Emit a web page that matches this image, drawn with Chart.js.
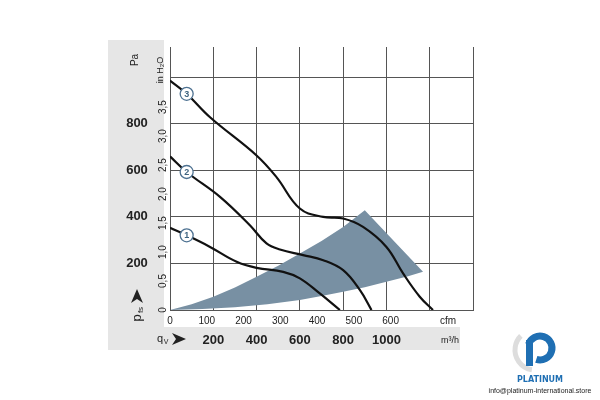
<!DOCTYPE html>
<html>
<head>
<meta charset="utf-8">
<script src="https://cdn.jsdelivr.net/npm/chart.js@4/dist/chart.umd.min.js"></script>
<style>
  body { margin: 0; background: #fff; }
</style>
</head>
<body>
<canvas id="fan" width="600" height="400"></canvas>
<script>
// airflow in m3/h, pressure in Pa
const curve1Flow = [0, 77, 185, 308, 400, 523, 600, 692, 785];
const curve1Pa = [353, 321, 271, 207, 181, 164, 136, 71, 0];
const curve2Flow = [0, 77, 231, 369, 446, 508, 615, 708, 800, 877, 931];
const curve2Pa = [660, 593, 486, 364, 286, 260, 236, 214, 171, 86, 0];
const curve3Flow = [0, 77, 185, 400, 492, 600, 708, 800, 892, 1000, 1077, 1154, 1215];
const curve3Pa = [986, 929, 828, 664, 571, 436, 400, 393, 357, 271, 157, 57, 0];
// shaded operating zone: upper edge out to the peak, then lower edge back
const zoneFlow = [0, 100, 200, 300, 400, 500, 600, 700, 800, 900, 1169, 1100, 1000, 900, 800, 700, 600, 450, 300, 150, 0];
const zonePa = [0, 25, 57, 97, 143, 190, 243, 297, 357, 429, 164, 145, 121, 98, 78, 60, 43, 25, 12, 4, 0];
const curveNames = ["1", "2", "3"];
const paTicks = [200, 400, 600, 800];
const inchTicks = [0, 0.5, 1.0, 1.5, 2.0, 2.5, 3.0, 3.5];
const cfmTicks = [0, 100, 200, 300, 400, 500, 600];
const m3hTicks = [200, 400, 600, 800, 1000];

const PA_PER_INCH = 249.09;
const M3H_PER_CFM = 1.699;

function pts(xs, ys) {
    return xs.map((x, i) => ({ x: x, y: ys[i] }));
}

function curve(xs, ys) {
    return {
        data: pts(xs, ys),
        showLine: true,
        borderColor: "#111",
        borderWidth: 2.2,
        pointRadius: 0,
        tension: 0.4,
        fill: false,
        order: 5
    };
}

const labelPlugin = {
    id: "labels",
    beforeDraw(chart) {
        const c = chart.ctx;
        c.save();
        c.fillStyle = "#e6e6e6";
        c.fillRect(108, 40, 56, 310);
        c.fillRect(108, 327, 352, 23);
        c.restore();
    },
    afterDraw(chart) {
        const c = chart.ctx;
        const x = chart.scales.x, y = chart.scales.y;
        c.save();
        c.fillStyle = "#222";
        // Pa ticks
        c.font = "bold 13px 'Liberation Sans Narrow', Arial";
        c.textAlign = "center";
        c.textBaseline = "middle";
        paTicks.forEach(v => c.fillText(v, 137, y.getPixelForValue(v)));
        // m3/h ticks
        m3hTicks.forEach(v => c.fillText(v, x.getPixelForValue(v), 340));
        // cfm ticks
        c.font = "10px 'Liberation Sans Narrow', Arial";
        cfmTicks.forEach(v => c.fillText(v, x.getPixelForValue(v * M3H_PER_CFM), 321));
        c.fillText("cfm", 448, 321);
        c.font = "9px 'Liberation Sans Narrow', Arial";
        c.fillText("m³/h", 450, 341);
        // inch H2O ticks (rotated)
        c.font = "10px 'Liberation Sans Narrow', Arial";
        inchTicks.forEach(v => {
            c.save();
            c.translate(163, y.getPixelForValue(v * PA_PER_INCH));
            c.rotate(-Math.PI / 2);
            c.fillText(v === 0 ? "0" : v.toFixed(1).replace(".", ","), 0, 0);
            c.restore();
        });
        c.save();
        c.translate(161, 70);
        c.rotate(-Math.PI / 2);
        c.font = "9px 'Liberation Sans Narrow', Arial";
        c.fillText("in H₂O", 0, 0);
        c.restore();
        c.save();
        c.translate(135, 60);
        c.rotate(-Math.PI / 2);
        c.fillText("Pa", 0, 0);
        c.restore();
        // p_fs title with arrow
        c.save();
        c.translate(137, 318);
        c.rotate(-Math.PI / 2);
        c.font = "13px 'Liberation Sans Narrow', Arial";
        c.fillText("p", 0, 0);
        c.font = "8px 'Liberation Sans Narrow', Arial";
        c.fillText("fs", 8, 4);
        c.restore();
        c.beginPath();
        c.moveTo(137, 289); c.lineTo(131, 303); c.lineTo(137, 299); c.lineTo(143, 303);
        c.closePath(); c.fill();
        // q_V title with arrow
        c.font = "11px 'Liberation Sans Narrow', Arial";
        c.fillText("q", 160, 339);
        c.font = "7px 'Liberation Sans Narrow', Arial";
        c.fillText("V", 166, 342);
        c.beginPath();
        c.moveTo(186, 339); c.lineTo(172, 333); c.lineTo(176, 339); c.lineTo(172, 345);
        c.closePath(); c.fill();
        // curve number badges
        const badges = chart.getDatasetMeta(4).data;
        c.font = "bold 9px Arial";
        c.fillStyle = "#3f6480";
        badges.forEach((p, i) => c.fillText(curveNames[i], p.x, p.y + 0.5));
        // logo
        c.lineWidth = 5;
        c.strokeStyle = "#ddd";
        c.beginPath();
        c.arc(535, 350, 20, Math.PI * 0.55, Math.PI * 1.25);
        c.stroke();
        c.strokeStyle = "#1f6fb3";
        c.lineWidth = 7;
        c.beginPath();
        c.arc(540, 348, 12, -Math.PI * 0.9, Math.PI * 0.6);
        c.stroke();
        c.fillStyle = "#1f6fb3";
        c.fillRect(526, 340, 7, 26);
        c.font = "bold 8px 'DejaVu Sans'";
        c.fillText("PLATINUM", 540, 380);
        c.fillStyle = "#222";
        c.font = "7px 'Liberation Sans Narrow', Arial";
        c.fillText("info@platinum-international.store", 540, 391);
        c.restore();
    }
};

new Chart(document.getElementById("fan"), {
    type: "scatter",
    data: {
        datasets: [
            {
                data: pts(zoneFlow, zonePa),
                showLine: true,
                borderWidth: 0,
                borderColor: "rgba(0,0,0,0)",
                backgroundColor: "#7890a3",
                pointRadius: 0,
                tension: 0,
                fill: "shape",
                order: 10
            },
            curve(curve1Flow, curve1Pa),
            curve(curve2Flow, curve2Pa),
            curve(curve3Flow, curve3Pa),
            {
                data: [
                    { x: curve1Flow[1], y: curve1Pa[1] },
                    { x: curve2Flow[1], y: curve2Pa[1] },
                    { x: curve3Flow[1], y: curve3Pa[1] }
                ],
                pointRadius: 6.5,
                pointBackgroundColor: "#fff",
                pointBorderColor: "#4d7191",
                pointBorderWidth: 1.3,
                order: 1
            }
        ]
    },
    plugins: [labelPlugin],
    options: {
        responsive: false,
        animation: false,
        layout: { padding: { left: 170, right: 127, top: 47, bottom: 90 } },
        plugins: { legend: { display: false }, tooltip: { enabled: false } },
        scales: {
            x: {
                type: "linear", min: 0, max: 1400,
                ticks: { display: false, stepSize: 200 },
                grid: { color: "#555", lineWidth: 1, drawTicks: false },
                border: { display: true, color: "#555" }
            },
            y: {
                type: "linear", min: 0, max: 1130,
                ticks: { display: false, stepSize: 200 },
                afterBuildTicks(axis) {
                    axis.ticks = [0, 200, 400, 600, 800, 1000].map(v => ({ value: v }));
                },
                grid: { color: "#555", lineWidth: 1, drawTicks: false },
                border: { display: true, color: "#555" }
            }
        }
    }
});
</script>
</body>
</html>
